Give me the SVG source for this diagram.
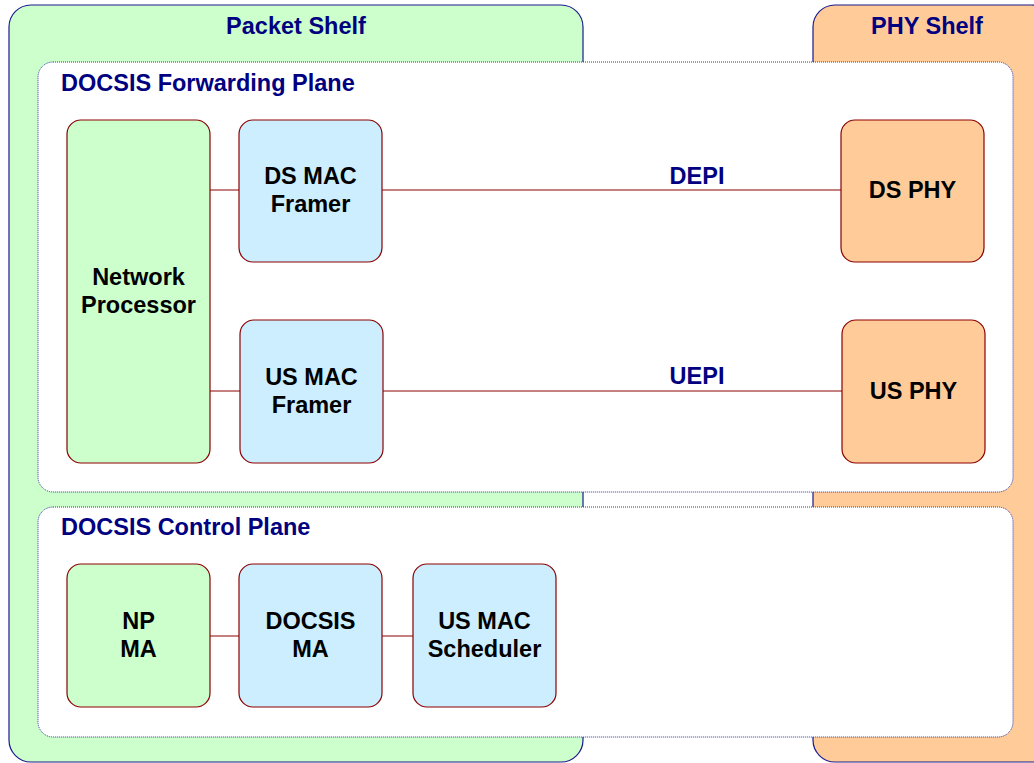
<svg xmlns="http://www.w3.org/2000/svg" width="1034" height="763" viewBox="0 0 1034 763">
  <style>
    .shelf { stroke: #1a1a8c; stroke-width: 1.2; }
    .plane { fill: #ffffff; stroke: #3333aa; stroke-width: 1; stroke-dasharray: 1 1; }
    .node { stroke: #8b0000; stroke-width: 1.2; }
    .green { fill: #ccffcc; }
    .blue { fill: #cceeff; }
    .orange { fill: #ffcc99; }
    .title { font-family: "Liberation Sans", Arial, sans-serif; font-weight: bold; font-size: 23.5px; fill: #000080; }
    .label { font-family: "Liberation Sans", Arial, sans-serif; font-weight: bold; font-size: 23.5px; fill: #000000; text-anchor: middle; }
    .link { stroke: #8b0000; stroke-width: 1; fill: none; }
  </style>

  <!-- Shelves -->
  <g id="packet-shelf">
    <rect class="shelf green" x="9" y="5" width="574" height="757" rx="22" ry="22"/>
    <text class="title" x="296" y="34" text-anchor="middle">Packet Shelf</text>
  </g>
  <g id="phy-shelf">
    <rect class="shelf orange" x="813" y="5" width="240" height="757" rx="22" ry="22"/>
    <text class="title" x="927" y="34" text-anchor="middle">PHY Shelf</text>
  </g>

  <!-- Planes -->
  <g id="forwarding-plane">
    <rect class="plane" x="38" y="62" width="975" height="430" rx="15" ry="15"/>
    <text class="title" x="61" y="91">DOCSIS Forwarding Plane</text>
  </g>
  <g id="control-plane">
    <rect class="plane" x="38" y="507" width="975" height="230" rx="15" ry="15"/>
    <text class="title" x="61" y="535">DOCSIS Control Plane</text>
  </g>

  <!-- Connectors -->
  <g id="connectors">
    <line class="link" x1="210" y1="190" x2="239" y2="190"/>
    <line class="link" x1="382" y1="190" x2="841" y2="190"/>
    <line class="link" x1="210" y1="391" x2="240" y2="391"/>
    <line class="link" x1="383" y1="391" x2="842" y2="391"/>
    <line class="link" x1="210" y1="636" x2="239" y2="636"/>
    <line class="link" x1="382" y1="636" x2="413" y2="636"/>
    <text class="title" x="697" y="184" text-anchor="middle">DEPI</text>
    <text class="title" x="697" y="384" text-anchor="middle">UEPI</text>
  </g>

  <!-- Forwarding nodes -->
  <g id="network-processor">
    <rect class="node green" x="67" y="120" width="143" height="343" rx="14" ry="14"/>
    <text class="label" x="138.5" y="285">Network</text>
    <text class="label" x="138.5" y="313">Processor</text>
  </g>
  <g id="ds-mac-framer">
    <rect class="node blue" x="239" y="120" width="143" height="142" rx="14" ry="14"/>
    <text class="label" x="310.5" y="184">DS MAC</text>
    <text class="label" x="310.5" y="212">Framer</text>
  </g>
  <g id="us-mac-framer">
    <rect class="node blue" x="240" y="320" width="143" height="143" rx="14" ry="14"/>
    <text class="label" x="311.5" y="385">US MAC</text>
    <text class="label" x="311.5" y="413">Framer</text>
  </g>
  <g id="ds-phy">
    <rect class="node orange" x="841" y="120" width="143" height="142" rx="14" ry="14"/>
    <text class="label" x="912.5" y="198">DS PHY</text>
  </g>
  <g id="us-phy">
    <rect class="node orange" x="842" y="320" width="143" height="143" rx="14" ry="14"/>
    <text class="label" x="913.5" y="399">US PHY</text>
  </g>

  <!-- Control nodes -->
  <g id="np-ma">
    <rect class="node green" x="67" y="564" width="143" height="143" rx="14" ry="14"/>
    <text class="label" x="138.5" y="629">NP</text>
    <text class="label" x="138.5" y="657">MA</text>
  </g>
  <g id="docsis-ma">
    <rect class="node blue" x="239" y="564" width="143" height="143" rx="14" ry="14"/>
    <text class="label" x="310.5" y="629">DOCSIS</text>
    <text class="label" x="310.5" y="657">MA</text>
  </g>
  <g id="us-mac-scheduler">
    <rect class="node blue" x="413" y="564" width="143" height="143" rx="14" ry="14"/>
    <text class="label" x="484.5" y="629">US MAC</text>
    <text class="label" x="484.5" y="657">Scheduler</text>
  </g>
</svg>
